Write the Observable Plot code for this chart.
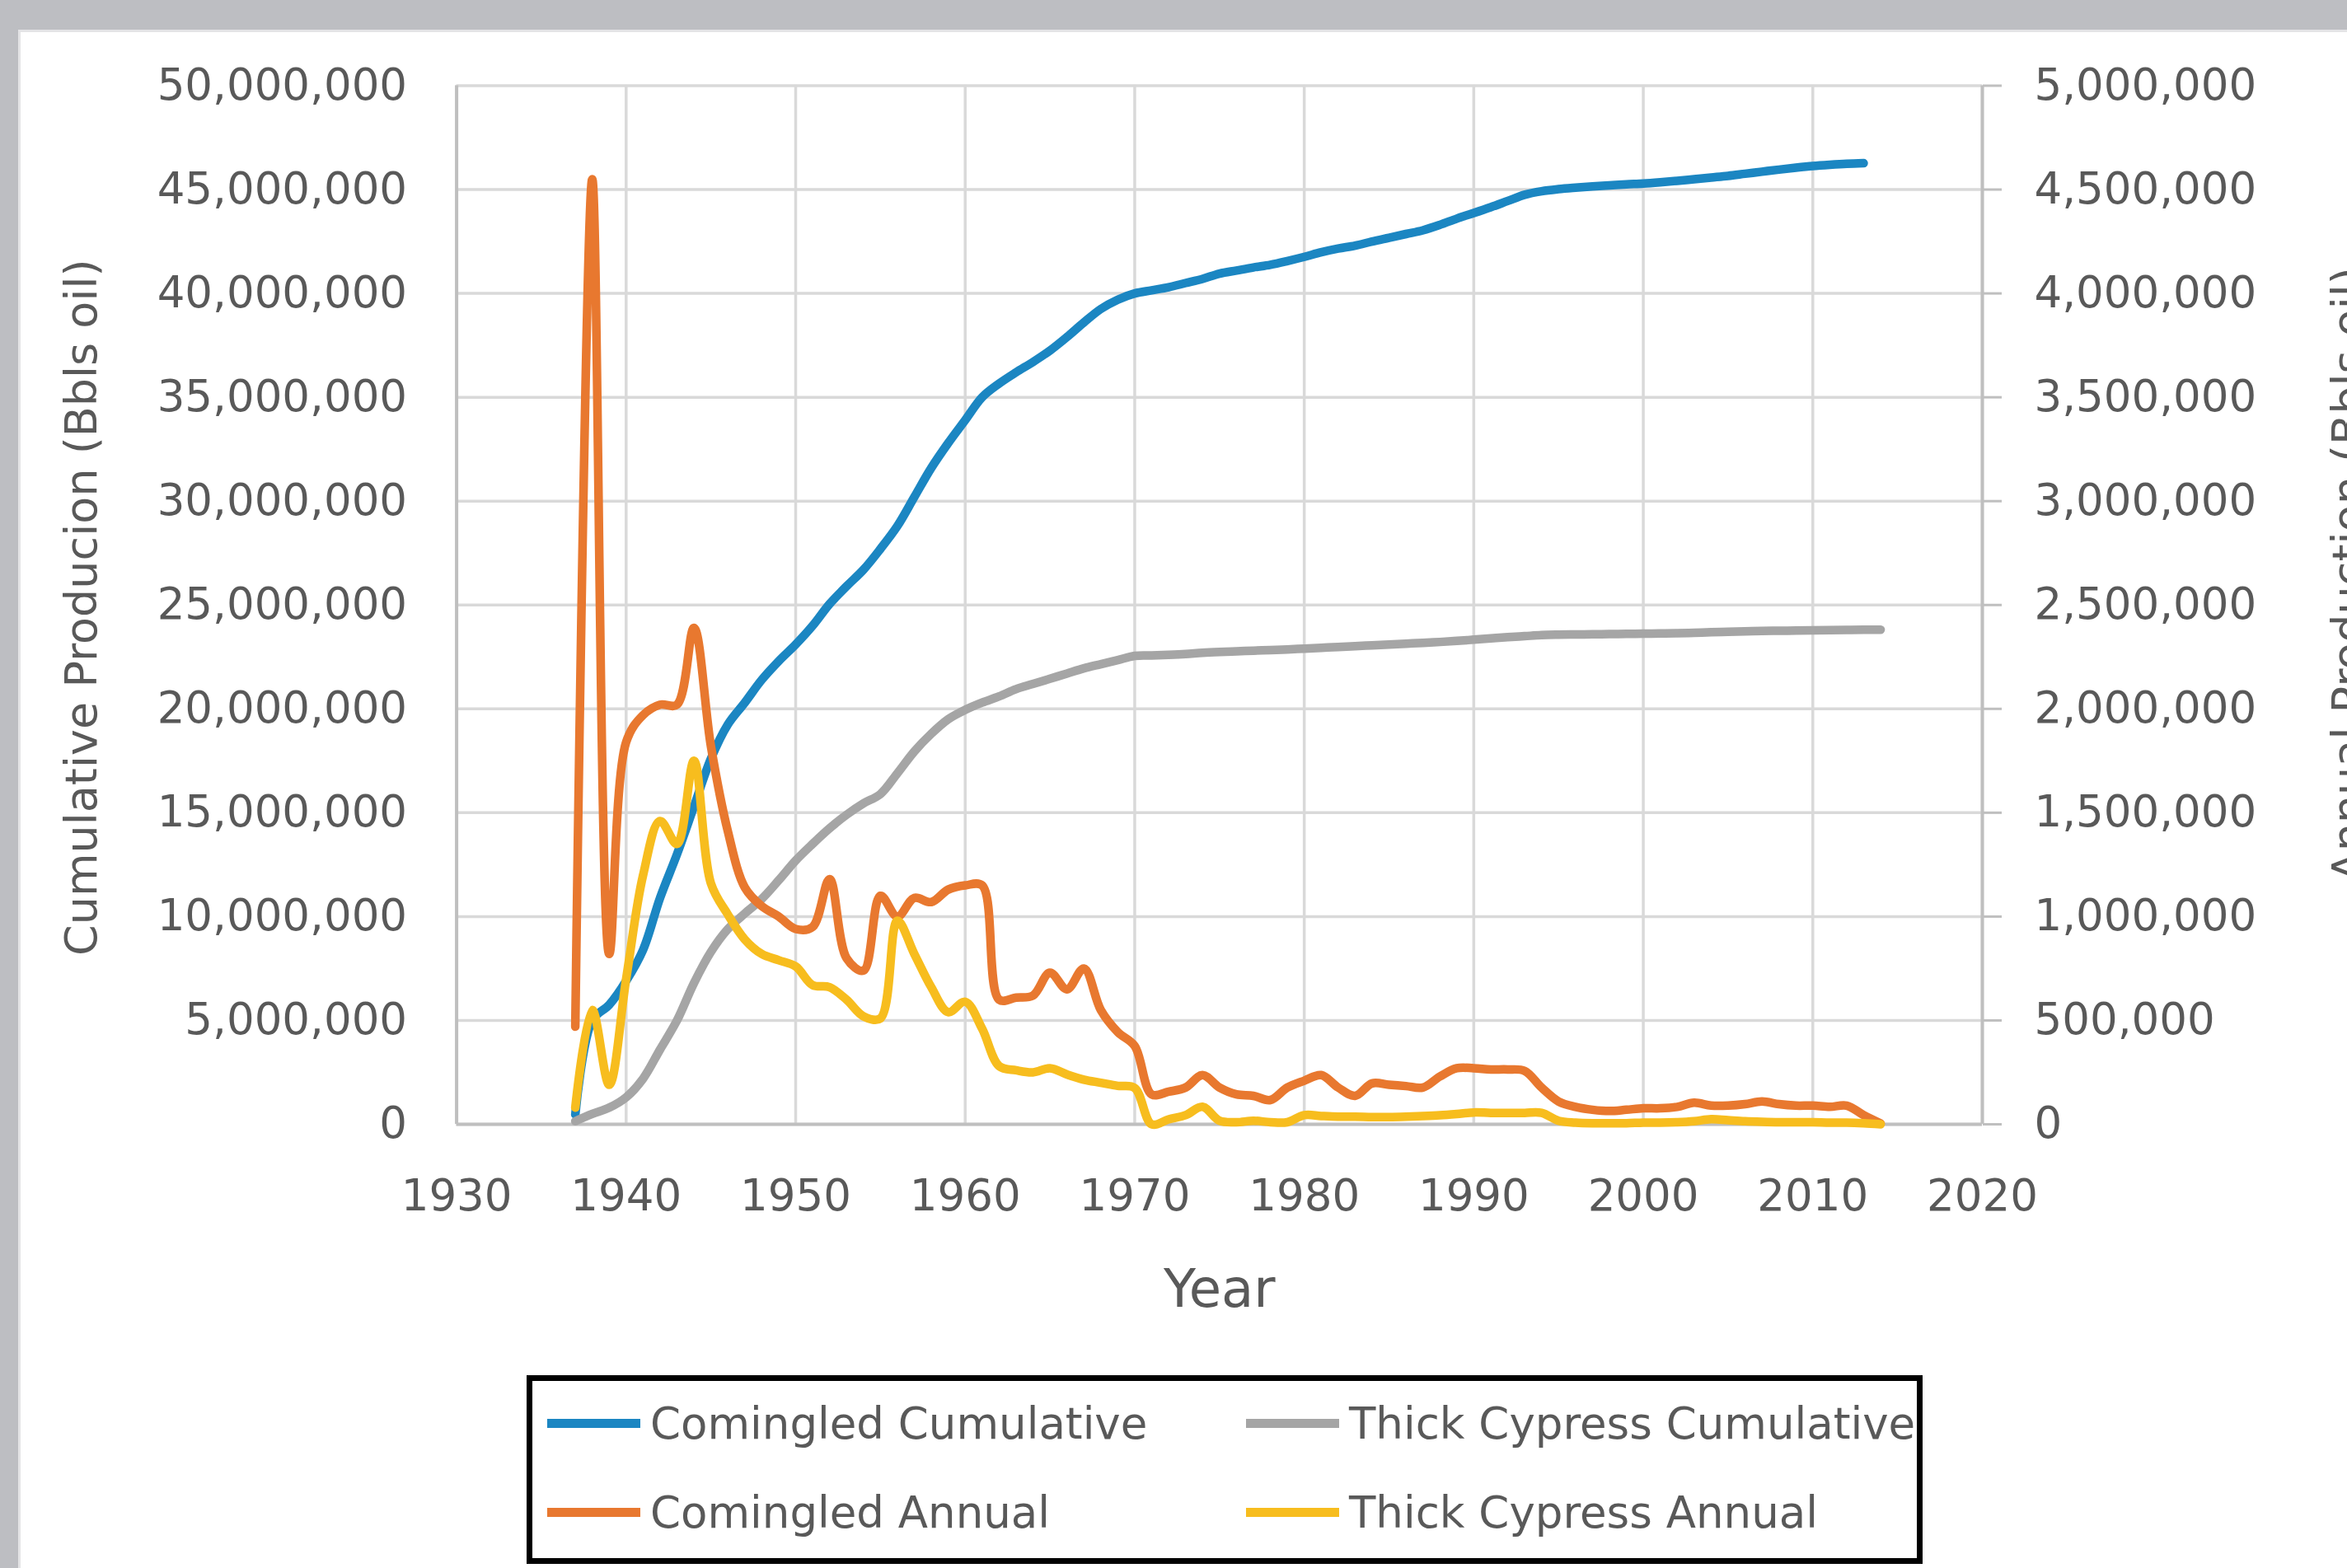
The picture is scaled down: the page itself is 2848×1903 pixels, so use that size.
<!DOCTYPE html>
<html>
<head>
<meta charset="utf-8">
<script src="https://cdn.jsdelivr.net/npm/d3@7"></script>
<script src="https://cdn.jsdelivr.net/npm/@observablehq/plot@0.6"></script>
<style>
  html, body { margin: 0; padding: 0; overflow: hidden; background: #fff; width: 2848px; height: 1903px; }
  #page { position: relative; width: 2848px; height: 1903px; background: #fff; overflow: hidden; }
  #chart { position: absolute; left: 0; top: 0; }
  .band { position: absolute; background: #bdbec2; }
  .edge { position: absolute; background: #e4e4e6; }
  #legend { position: absolute; left: 639px; top: 1669px; width: 1680px; height: 215px; border: 7px solid #000;
            background: #fff; font-family: "DejaVu Sans", sans-serif; font-size: 53px; color: #595959; }
  .item { position: absolute; height: 70px; display: flex; align-items: center; white-space: nowrap; }
  .sw { width: 113px; height: 11px; margin-right: 12px; flex: none; }
</style>
</head>
<body>
<div id="page">
  <div id="chart"></div>
  <div class="band" style="left:0;top:0;width:2848px;height:36px;"></div>
  <div class="band" style="left:0;top:0;width:22px;height:1903px;"></div>
  <div class="edge" style="left:22px;top:36px;width:2826px;height:3px;"></div>
  <div class="edge" style="left:22px;top:36px;width:3px;height:1867px;"></div>
  <div id="legend"></div>
</div>
<script>
// ---------- data ----------
const years = [1937,1938,1939,1940,1941,1942,1943,1944,1945,1946,
  1947,1948,1949,1950,1951,1952,1953,1954,1955,1956,
  1957,1958,1959,1960,1961,1962,1963,1964,1965,1966,
  1967,1968,1969,1970,1971,1972,1973,1974,1975,1976,
  1977,1978,1979,1980,1981,1982,1983,1984,1985,1986,
  1987,1988,1989,1990,1991,1992,1993,1994,1995,1996,
  1997,1998,1999,2000,2001,2002,2003,2004,2005,2006,
  2007,2008,2009,2010,2011,2012,2013,2014];

// Comingled Cumulative (1937–2013), barrels
const comingledCumulative = [470000,5000000,5750000,6900000,8400000,10900000,13000000,15300000,17600000,19250000,
  20300000,21400000,22300000,23100000,24000000,25050000,25900000,26700000,27700000,28800000,
  30200000,31600000,32800000,33900000,35000000,35660000,36200000,36700000,37250000,37900000,
  38600000,39250000,39700000,40000000,40150000,40300000,40500000,40700000,40950000,41100000,
  41250000,41380000,41560000,41760000,41980000,42160000,42300000,42500000,42680000,42860000,
  43040000,43300000,43600000,43870000,44150000,44450000,44750000,44920000,45020000,45090000,
  45150000,45200000,45250000,45290000,45350000,45420000,45500000,45580000,45660000,45760000,
  45860000,45960000,46050000,46130000,46190000,46240000,46270000];

// Thick Cypress Cumulative (1937–2014), barrels
const thickCypressCumulative = [150000,500000,800000,1300000,2200000,3600000,5000000,6800000,8300000,9400000,
  10150000,10850000,11750000,12700000,13500000,14250000,14900000,15450000,15900000,16900000,
  17950000,18800000,19500000,19950000,20300000,20600000,20950000,21200000,21450000,21700000,
  21950000,22150000,22350000,22550000,22570000,22600000,22640000,22700000,22740000,22770000,
  22800000,22830000,22860000,22900000,22940000,22980000,23020000,23060000,23100000,23140000,
  23180000,23220000,23270000,23330000,23390000,23450000,23500000,23550000,23570000,23580000,
  23590000,23600000,23610000,23620000,23630000,23640000,23660000,23690000,23710000,23730000,
  23750000,23760000,23770000,23780000,23790000,23800000,23810000,23810000];

// Comingled Annual (1937–2014), barrels – secondary axis
const comingledAnnual = [470000,4550000,820000,1840000,1970000,2020000,2020000,2390000,1820000,1410000,
  1140000,1050000,1000000,940000,950000,1180000,800000,740000,1100000,1000000,
  1090000,1070000,1130000,1150000,1150000,600000,610000,620000,730000,650000,
  750000,550000,444000,377000,144000,157000,177000,237000,177000,144000,
  137000,117000,177000,210000,237000,177000,137000,197000,190000,184000,
  177000,230000,270000,270000,264000,264000,257000,177000,110000,84000,
  70000,64000,70000,77000,77000,84000,104000,90000,90000,97000,
  110000,97000,90000,90000,84000,90000,44000,4000];

// Thick Cypress Annual (1937–2014), barrels – secondary axis
const thickCypressAnnual = [80000,550000,190000,700000,1200000,1460000,1350000,1750000,1160000,1010000,
  890000,820000,790000,760000,670000,660000,600000,520000,510000,980000,
  820000,660000,540000,590000,460000,280000,260000,250000,270000,240000,
  215000,200000,185000,175000,0,24000,44000,84000,17000,10000,
  17000,10000,10000,44000,40000,37000,37000,35000,35000,37000,
  40000,44000,50000,57000,55000,55000,55000,55000,17000,8000,
  5000,5000,5000,8000,8000,10000,15000,25000,20000,15000,
  12000,10000,10000,10000,8000,8000,5000,0];

const xTicks = [1930,1940,1950,1960,1970,1980,1990,2000,2010,2020];
const yTicks = [0,5000000,10000000,15000000,20000000,25000000,30000000,35000000,40000000,45000000,50000000];

const seriesNames = ["Comingled Cumulative","Thick Cypress Cumulative","Comingled Annual","Thick Cypress Annual"];
const seriesColors = ["#1b86c2","#a5a5a5","#e8782f","#f7bd1e"];

const xLabel = "Year";
const yLabelLeft = "Cumulative Producion (Bbls oil)";
const yLabelRight = "Annual Production (Bbls oil)";

// secondary axis (0–5,000,000) is drawn on the primary scale (0–50,000,000)
const SECONDARY_RATIO = 10;

// ---------- build ----------
const rows = (vals) => vals.map((v, i) => ({year: years[i], value: v}));
const fmt = d3.format(",");
const lineStyle = {strokeWidth: 10.5, strokeLinejoin: "round", strokeLinecap: "round", curve: "catmull-rom"};

const chart = Plot.plot({
  width: 2848,
  height: 1640,
  marginLeft: 553.6,
  marginRight: 443,
  marginTop: 103.5,
  marginBottom: 276,
  style: {background: "transparent", fontFamily: "DejaVu Sans", fontSize: "53px", color: "#595959"},
  x: {domain: [1930, 2020]},
  y: {domain: [0, 50000000]},
  marks: [
    Plot.gridX(xTicks, {stroke: "#d9d9d9", strokeOpacity: 1, strokeWidth: 3.5}),
    Plot.gridY(yTicks, {stroke: "#d9d9d9", strokeOpacity: 1, strokeWidth: 3.5}),
    Plot.ruleX([1930, 2020], {stroke: "#bfbfbf", strokeWidth: 4}),
    Plot.ruleY([0], {stroke: "#bfbfbf", strokeWidth: 4}),
    Plot.axisX(xTicks, {tickSize: 0, tickPadding: 67, tickFormat: d => String(d), fontSize: 53, fill: "#595959", label: null}),
    Plot.axisY(yTicks, {anchor: "left", tickSize: 0, tickPadding: 60, tickFormat: fmt, fontSize: 53, fill: "#595959", label: null}),
    Plot.axisY(yTicks, {anchor: "right", tickSize: 23, tickPadding: 40, stroke: "#bfbfbf", strokeWidth: 3,
      tickFormat: d => fmt(d / SECONDARY_RATIO), fontSize: 53, fill: "#595959", label: null}),
    Plot.lineY(rows(comingledCumulative), {x: "year", y: "value", stroke: seriesColors[0], ...lineStyle}),
    Plot.lineY(rows(thickCypressCumulative), {x: "year", y: "value", stroke: seriesColors[1], ...lineStyle}),
    Plot.lineY(rows(comingledAnnual), {x: "year", y: d => d.value * SECONDARY_RATIO, stroke: seriesColors[2], ...lineStyle}),
    Plot.lineY(rows(thickCypressAnnual), {x: "year", y: d => d.value * SECONDARY_RATIO, stroke: seriesColors[3], ...lineStyle}),
    Plot.text([xLabel], {text: d => d, frameAnchor: "bottom", textAnchor: "middle", dy: 221, lineAnchor: "bottom", fontSize: 64, fill: "#595959"}),
    Plot.text([yLabelLeft], {text: d => d, frameAnchor: "left", textAnchor: "middle", rotate: -90, dx: -475.6, dy: 3, lineAnchor: "top", fontSize: 54, fill: "#595959"}),
    Plot.text([yLabelRight], {text: d => d, frameAnchor: "right", textAnchor: "middle", rotate: -90, dx: 462, dy: -37, lineAnchor: "bottom", fontSize: 54, fill: "#595959"})
  ]
});
document.getElementById("chart").appendChild(chart);

// ---------- legend (HTML, below the SVG) ----------
const legendPos = [
  {left: 18, top: 16}, {left: 866, top: 16},
  {left: 18, top: 124}, {left: 866, top: 124}
];
const legend = document.getElementById("legend");
seriesNames.forEach((name, i) => {
  const item = document.createElement("div");
  item.className = "item";
  item.style.left = legendPos[i].left + "px";
  item.style.top = legendPos[i].top + "px";
  const sw = document.createElement("span");
  sw.className = "sw";
  sw.style.background = seriesColors[i];
  const tx = document.createElement("span");
  tx.textContent = name;
  item.appendChild(sw);
  item.appendChild(tx);
  legend.appendChild(item);
});
</script>
</body>
</html>
